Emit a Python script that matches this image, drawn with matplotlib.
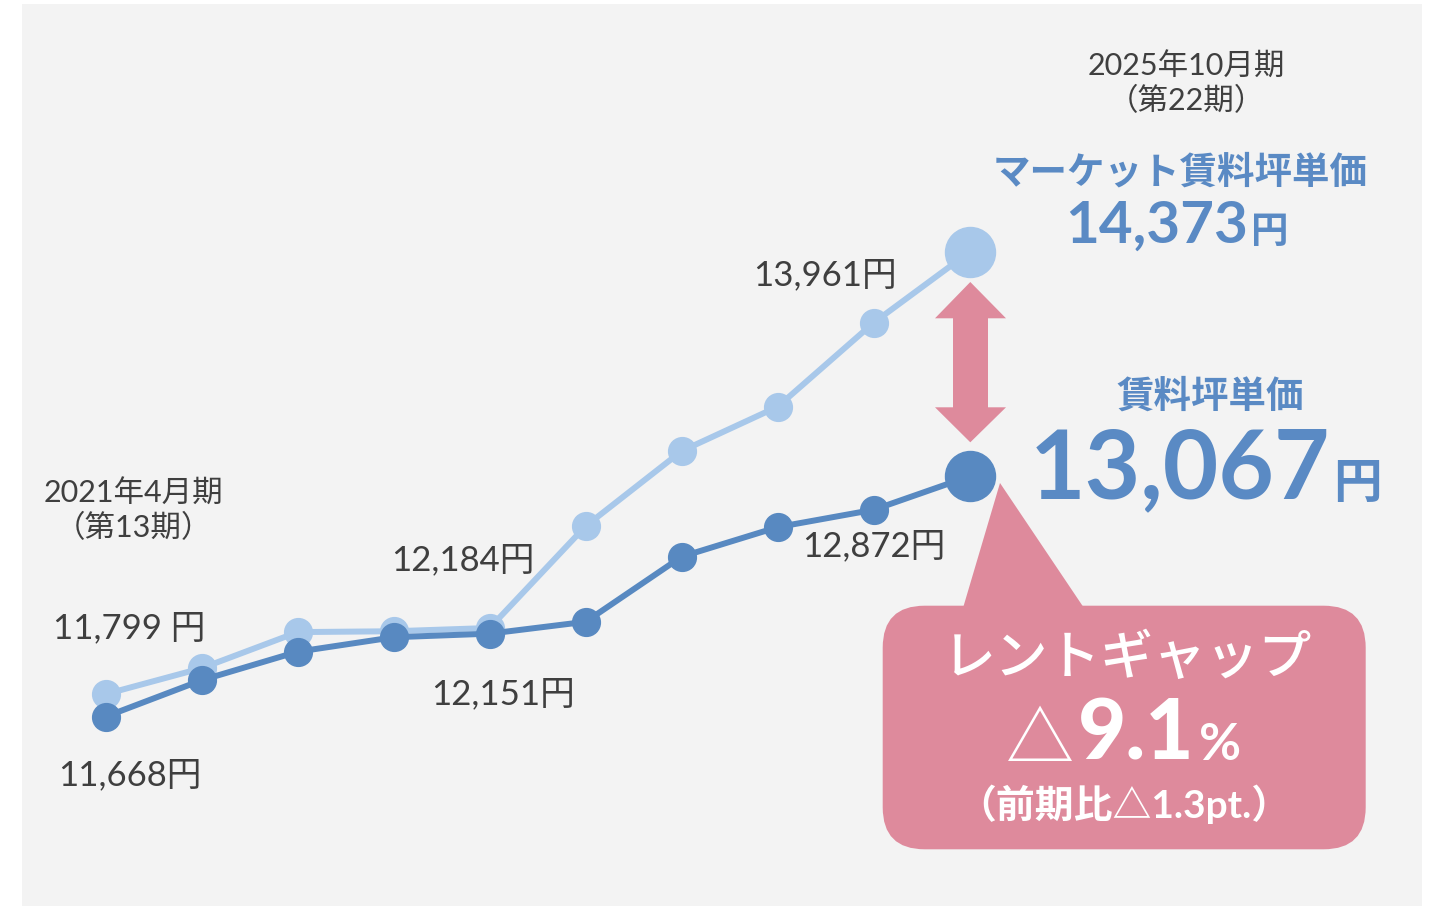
import matplotlib
matplotlib.use('Agg')
import matplotlib.pyplot as plt
import matplotlib.transforms as mtransforms
from matplotlib.patches import Rectangle, Polygon, FancyBboxPatch

# 賃料坪単価 vs マーケット賃料坪単価 (第13期〜第22期)
periods = list(range(13, 23))
market = [11799, 11950, 12160, 12165, 12184, 12777, 13214, 13472, 13961, 14373]
rent = [11668, 11880, 12046, 12130, 12151, 12220, 12599, 12771, 12872, 13067]

LIGHT = '#A8C8EA'
DARK = '#5889C1'
PINK = '#DE8A9C'
BG = '#F3F3F3'
TXT = '#3F3F3F'
BLUE_TXT = '#5A8AC4'

plt.rcParams['font.family'] = ['Lato', 'Noto Sans CJK JP', 'DejaVu Sans']

W, H = 1438, 907
fig = plt.figure(figsize=(W / 100, H / 100), dpi=100)
fig.patch.set_facecolor('white')
# pixel coords, y from top
pix = mtransforms.Affine2D().scale(1 / W, -1 / H).translate(0, 1) + fig.transFigure

fig.add_artist(Rectangle((22, 4), 1400, 902, transform=pix, facecolor=BG,
                         edgecolor='none', zorder=-5))

ax = fig.add_axes([0, 0, 1, 1])
ax.set_axis_off()
ax.patch.set_alpha(0)
ax.set_xlim(11.899, 26.878)
ax.set_ylim(10560, 15839)

ax.plot(periods, market, color=LIGHT, lw=4.3, marker='o', ms=20, zorder=2)
ax.plot(periods[-1], market[-1], color=LIGHT, marker='o', ms=36, ls='none', zorder=2)
ax.plot(periods, rent, color=DARK, lw=4.3, marker='o', ms=20, zorder=3)
ax.plot(periods[-1], rent[-1], color=DARK, marker='o', ms=36, ls='none', zorder=3)


def vlabel(i, series, s, dx, dy):
    ax.annotate(s, (periods[i], series[i]), xytext=(dx, dy), textcoords='offset pixels',
                ha='center', va='baseline', fontsize=25, color=TXT, zorder=4)


vlabel(0, market, f'{market[0]:,} 円', 24, 56)
vlabel(0, rent, f'{rent[0]:,}円', 24, -69)
vlabel(4, market, f'{market[4]:,}円', -27, 58)
vlabel(4, rent, f'{rent[4]:,}円', 13, -71)
vlabel(8, market, f'{market[8]:,}円', -49, 37)
vlabel(8, rent, f'{rent[8]:,}円', 0, -46)

# period captions
ax.text(133, 503, '2021年4月期', transform=pix, ha='center', va='baseline', fontsize=22, color=TXT)
ax.text(133, 537, '（第13期）', transform=pix, ha='center', va='baseline', fontsize=22, color=TXT)
ax.text(1186, 76, '2025年10月期', transform=pix, ha='center', va='baseline', fontsize=22, color=TXT)
ax.text(1186, 110, '（第22期）', transform=pix, ha='center', va='baseline', fontsize=22, color=TXT)

# end values
ax.text(1180, 184, 'マーケット賃料坪単価', transform=pix, ha='center', va='baseline',
        fontsize=27, color=BLUE_TXT, fontweight='bold')
ax.text(1248, 243, f'{market[-1]:,}', transform=pix, ha='right', va='baseline',
        fontsize=42, color=BLUE_TXT, fontweight='bold')
ax.text(1251, 243, '円', transform=pix, ha='left', va='baseline',
        fontsize=27, color=BLUE_TXT, fontweight='bold')
ax.text(1210, 408, '賃料坪単価', transform=pix, ha='center', va='baseline',
        fontsize=27, color=BLUE_TXT, fontweight='bold')
ax.text(1330, 498, f'{rent[-1]:,}', transform=pix, ha='right', va='baseline',
        fontsize=69, color=BLUE_TXT, fontweight='bold')
ax.text(1333, 498, '円', transform=pix, ha='left', va='baseline',
        fontsize=35, color=BLUE_TXT, fontweight='bold')

# double arrow between the two end points
arrow = [(970.3, 282), (1006, 318.3), (988, 318.3), (988, 407.3), (1006, 407.3),
         (970.3, 442.3), (935, 407.3), (953, 407.3), (953, 318.3), (935, 318.3)]
ax.add_patch(Polygon(arrow, closed=True, transform=pix, facecolor=PINK, edgecolor='none', zorder=1))

# speech bubble
ax.add_patch(FancyBboxPatch((882.7, 605.7), 483, 243.6, boxstyle='round,pad=0,rounding_size=42',
                            transform=pix, facecolor=PINK, edgecolor='none', zorder=1))
ax.add_patch(Polygon([(963, 608), (1084, 608), (1000, 483)], closed=True, transform=pix,
                     facecolor=PINK, edgecolor='none', zorder=1))

ax.text(1128, 674, 'レントギャップ', transform=pix, ha='center', va='baseline',
        fontsize=38, color='white', fontweight='medium')
ax.text(1006, 762, '△', transform=pix, ha='left', va='baseline',
        fontsize=49, color='white', family=['Noto Sans CJK JP'])
ax.text(1078, 760, '9.1', transform=pix, ha='left', va='baseline',
        fontsize=60, color='white', fontweight='black')
ax.text(1199, 760, '%', transform=pix, ha='left', va='baseline',
        fontsize=37, color='white', fontweight='bold')
ax.text(1124, 818, '（前期比△1.3pt.）', transform=pix, ha='center', va='baseline',
        fontsize=28, color='white', fontweight='bold')

fig.savefig('out.png', dpi=100)
